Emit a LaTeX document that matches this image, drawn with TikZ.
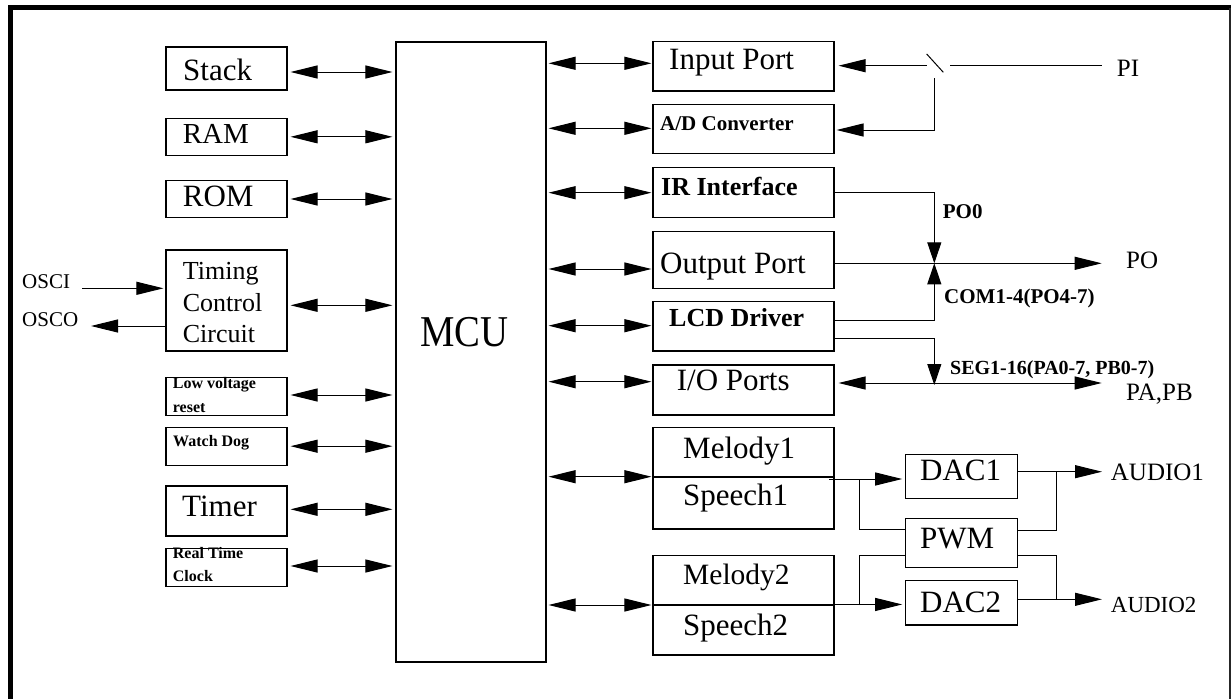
\documentclass[tikz,border=0pt]{standalone}
\usepackage{fontspec}
\setmainfont{Liberation Serif}
\usetikzlibrary{arrows.meta,calc}
\begin{document}
\begin{tikzpicture}[x=1pt,y=-1pt,
  box/.style={draw, line width=1.1pt, inner sep=0pt, anchor=center},
  txt/.style={inner sep=0pt, anchor=base west},
  mtxt/.style={inner sep=0pt, anchor=north west, align=left},
  fs/.style={font=\fontsize{#1pt}{#1pt}\selectfont},
  fb/.style={font=\bfseries\fontsize{#1pt}{#1pt}\selectfont},
  ln/.style={line width=1pt},
  bi/.style={ln, {Triangle[length=27pt,width=13pt]}-{Triangle[length=27pt,width=13pt]}},
  ar/.style={ln, -{Triangle[length=27pt,width=13pt]}},
  var/.style={ln, -{Triangle[length=21pt,width=14pt]}},
]
\useasboundingbox (0,0) rectangle (1231,699);
% frame
\draw[line width=5pt] (8,7.5) -- (1231,7.5);
\draw[line width=5pt] (10.5,5) -- (10.5,699);
\draw[line width=2pt, black!85] (1229.5,7.5) -- (1229.5,699);

% left column boxes
\node[box, minimum width=121pt, minimum height=43pt]   (stack)  at (226.5,68.5) {};
\node[box, minimum width=121pt, minimum height=37pt]   (ram)    at (226.5,136.8) {};
\node[box, minimum width=121pt, minimum height=37.4pt] (rom)    at (226.5,199) {};
\node[box, minimum width=121pt, minimum height=101pt]  (timing) at (226.5,300.5) {};
\node[box, minimum width=121pt, minimum height=37.6pt] (lvr)    at (226.5,396.5) {};
\node[box, minimum width=121pt, minimum height=37.7pt] (wdog)   at (226.5,446.2) {};
\node[box, minimum width=121pt, minimum height=50pt]   (timer)  at (226.5,511) {};
\node[box, minimum width=121pt, minimum height=37.7pt] (rtc)    at (226.5,567.2) {};
% MCU
\node[box, minimum width=150pt, minimum height=620pt] (mcu) at (471,352) {};
% right column boxes
\node[box, minimum width=181pt, minimum height=49.3pt] (inport)  at (743.5,66.3) {};
\node[box, minimum width=181pt, minimum height=49.3pt] (adc)     at (743.5,128.7) {};
\node[box, minimum width=181pt, minimum height=49.6pt] (ir)      at (743.5,192.5) {};
\node[box, minimum width=181pt, minimum height=56.6pt] (outport) at (743.5,260) {};
\node[box, minimum width=181pt, minimum height=49.3pt] (lcd)     at (743.5,326.3) {};
\node[box, minimum width=181pt, minimum height=50pt]   (io)      at (743.5,390) {};
\node[box, minimum width=181pt, minimum height=49.3pt] (mel1)    at (743.5,452.3) {};
\node[box, minimum width=181pt, minimum height=52pt]   (sp1)     at (743.5,503) {};
\node[box, minimum width=181pt, minimum height=49.3pt] (mel2)    at (743.5,580.3) {};
\node[box, minimum width=181pt, minimum height=50pt]   (sp2)     at (743.5,630) {};
\node[box, minimum width=111.5pt, minimum height=44pt]   (dac1) at (961.5,476.3) {};
\node[box, minimum width=111.5pt, minimum height=49.4pt] (pwm)  at (961.5,543) {};
\node[box, minimum width=111.5pt, minimum height=44.3pt] (dac2) at (961.5,602.8) {};

% texts
\node[txt, fs=31] (tStack) at (183,80) {Stack};
\node[txt, fs=29] (tRam) at (182.7,143.3) {RAM};
\node[txt, fs=31] (tRom) at (182.7,206) {ROM};
\node[mtxt, font=\fontsize{26pt}{31.4pt}\selectfont] (tTiming) at (182.7,262.2) {Timing\\Control\\Circuit};
\node[mtxt, font=\bfseries\fontsize{16pt}{23.4pt}\selectfont] (tLvr) at (172.7,377.5) {Low voltage\\reset};
\node[txt, fb=16] (tWdog) at (173,446) {Watch Dog};
\node[txt, fs=31] (tTimer) at (182,516) {Timer};
\node[mtxt, font=\bfseries\fontsize{16pt}{22.4pt}\selectfont] (tRtc) at (172.7,547.5) {Real Time\\Clock};
\node[txt, fs=21] (tOsci) at (22,288.3) {OSCI};
\node[txt, fs=21] (tOsco) at (22,326.7) {OSCO};
\node[txt, fs=44] (tMcu) at (420,346.7) {\scalebox{0.88}[1]{MCU}};
\node[txt, fs=31] (tIn) at (669,69.3) {Input Port};
\node[txt, fb=21] (tAdc) at (660,130) {A/D Converter};
\node[txt, fb=26] (tIr) at (661,195.7) {IR Interface};
\node[txt, fs=31] (tOut) at (660,273.3) {Output Port};
\node[txt, fb=26] (tLcd) at (669,326.7) {LCD Driver};
\node[txt, fs=31] (tIo) at (676.6,390) {I/O Ports};
\node[txt, fs=31] (tMel1) at (683,458.3) {Melody1};
\node[txt, fs=31] (tSp1) at (683,505.7) {Speech1};
\node[txt, fs=29.5] (tMel2) at (683,584) {Melody2};
\node[txt, fs=31] (tSp2) at (683,635) {Speech2};
\node[txt, fs=31] (tDac1) at (920,480.7) {DAC1};
\node[txt, fs=31] (tPwm) at (920,548.3) {PWM};
\node[txt, fs=31] (tDac2) at (920,612.7) {DAC2};
\node[txt, fs=25] (tPi) at (1116.7,76.7) {PI};
\node[txt, fs=25] (tPo) at (1126,268.3) {PO};
\node[txt, fs=25] (tPab) at (1126,400.7) {PA,PB};
\node[txt, fs=25] (tA1) at (1110.7,480.7) {AUDIO1};
\node[txt, fs=23] (tA2) at (1110.7,612.7) {AUDIO2};
\node[txt, fb=21] (tPo0) at (942.7,218.3) {PO0};
\node[txt, fb=21] (tCom) at (944,303.3) {COM1-4(PO4-7)};
\node[txt, fb=20] (tSeg) at (950,374) {SEG1-16(PA0-7, PB0-7)};

% coordinates
\coordinate (swL) at (926.7,65.7);
\coordinate (swT) at (926.7,54);
\coordinate (swB) at (943.3,72.3);
\coordinate (swR) at (950,65.7);
\coordinate (piEnd) at (1101.7,65.7);
\coordinate (swV) at (934.3,78.3);
\coordinate (jPO) at (934.3,263.3);
\coordinate (poEnd) at (1101.7,263.3);
\coordinate (jSEG) at (934.3,385);
\coordinate (pabEnd) at (1101.7,383);
\coordinate (oscIn) at (82,288.3);
\coordinate (oscOut) at (91,326);
\coordinate (mel1Out) at (829,479);
\coordinate (b1) at (859.3,479);
\coordinate (b2) at (859.3,605);
\coordinate (jA) at (1056.5,471.7);
\coordinate (jB) at (1056.5,599.3);
\coordinate (a1End) at (1102,471.7);
\coordinate (a2End) at (1102,599.3);

% left connectors
\begin{scope}[shorten <=3pt, shorten >=3pt]
\draw[bi] (stack.east |- 0,72) -- (mcu.west |- 0,72);
\draw[bi] (ram.east) -- (mcu.west |- ram.east);
\draw[bi] (rom.east) -- (mcu.west |- rom.east);
\draw[bi] (timing.east |- 0,305.3) -- (mcu.west |- 0,305.3);
\draw[bi] (lvr.east |- 0,395) -- (mcu.west |- 0,395);
\draw[bi] (wdog.east) -- (mcu.west |- wdog.east);
\draw[bi] (timer.east |- 0,509.3) -- (mcu.west |- 0,509.3);
\draw[bi] (rtc.east |- 0,566) -- (mcu.west |- 0,566);
\end{scope}
\draw[ar, shorten >=2pt] (oscIn) -- (timing.west |- oscIn);
\draw[ar] (timing.west |- oscOut) -- (oscOut);

% right connectors from MCU
\begin{scope}[shorten <=2pt, shorten >=1pt]
\draw[bi] (mcu.east |- 0,63.3) -- (inport.west |- 0,63.3);
\draw[bi] (mcu.east |- 0,128.3) -- (adc.west |- 0,128.3);
\draw[bi] (mcu.east |- 0,192.7) -- (ir.west |- 0,192.7);
\draw[bi] (mcu.east |- 0,269) -- (outport.west |- 0,269);
\draw[bi] (mcu.east |- 0,325.7) -- (lcd.west |- 0,325.7);
\draw[bi] (mcu.east |- 0,381.7) -- (io.west |- 0,381.7);
\draw[bi] (mcu.east |- 0,476.7) -- (mel1.west |- 0,476.7);
\draw[bi] (mcu.east |- 0,605) -- (mel2.west |- 0,605);
\end{scope}

% switch and input
\draw[ar, shorten >=4pt] (swL) -- (inport.east |- swL);
\draw[ln] (swT) -- (swB);
\draw[ln] (swR) -- (piEnd);
\draw[ar, shorten >=2pt] (swV) |- (adc.east |- 0,130);

% outputs
\draw[var] (ir.east |- 0,192.7) -| (jPO);
\draw[ar] (outport.east |- jPO) -- (poEnd);
\draw[var] (lcd.east |- 0,320.7) -| (jPO);
\draw[var] (lcd.east |- 0,338.3) -| (jSEG);
\draw[bi, shorten <=4pt] (io.east |- pabEnd) -- (pabEnd);

% audio
\draw[ar, shorten >=3pt] (mel1Out) -- (dac1.west |- mel1Out);
\draw[ln] (b1) |- (pwm.west |- 0,529);
\draw[ar, shorten >=3pt] (sp2.north east) -- (dac2.west |- sp2.north east);
\draw[ln] (b2) |- (pwm.west |- 0,555.7);
\draw[ar] (dac1.east |- jA) -- (a1End);
\draw[ln] (pwm.east |- 0,530.7) -| (jA);
\draw[ln] (pwm.east |- 0,555.7) -| (jB);
\draw[ar] (dac2.east |- jB) -- (a2End);
\end{tikzpicture}
\end{document}
